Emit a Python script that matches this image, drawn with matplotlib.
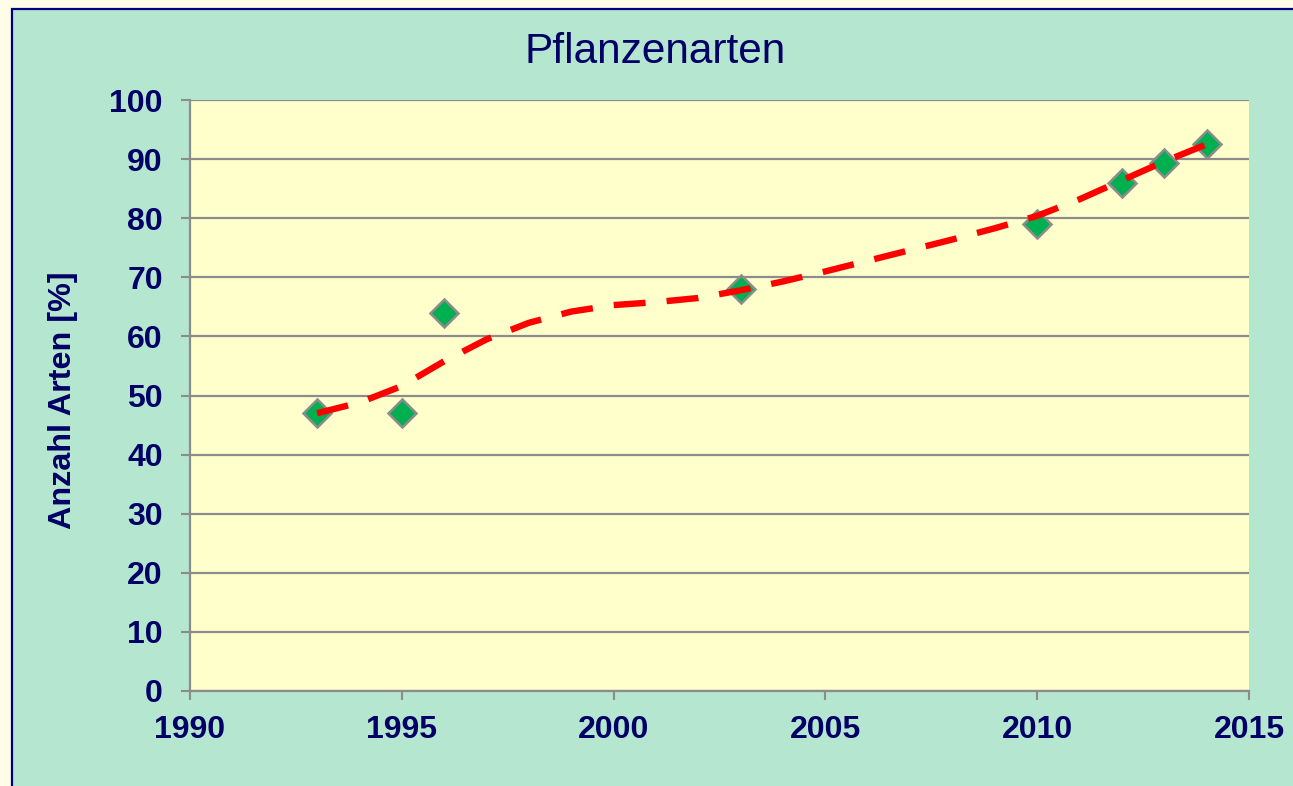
import matplotlib
matplotlib.use("Agg")
import matplotlib.pyplot as plt
from matplotlib.patches import Rectangle

# Data
years = [1993, 1995, 1996, 2003, 2010, 2012, 2013, 2014]
values = [47, 47, 64, 68, 79, 86, 89.3, 92.5]

trend_years = [1993, 1994, 1995, 1996, 1997, 1998, 1999, 2000, 2001, 2002, 2003,
               2004, 2005, 2006, 2007, 2008, 2009, 2010, 2011, 2012, 2013, 2014]
trend_values = [47.0, 48.8, 51.6, 55.8, 59.5, 62.3, 64.2, 65.3, 65.8, 66.5, 67.8,
                69.3, 71.0, 72.8, 74.6, 76.4, 78.3, 80.4, 83.2, 86.4, 89.6, 92.5]

x_ticks = [1990, 1995, 2000, 2005, 2010, 2015]
y_ticks = [0, 10, 20, 30, 40, 50, 60, 70, 80, 90, 100]

title = "Pflanzenarten"
ylabel = "Anzahl Arten [%]"

navy = "#000066"
grid_gray = "#8C8C8C"

plt.rcParams['font.family'] = ['Liberation Sans', 'DejaVu Sans']

W, H = 1293, 786
fig = plt.figure(figsize=(W / 100, H / 100), dpi=100)
fig.patch.set_facecolor("#FFFDE8")

panel = Rectangle((12 / W, -0.05), 1.1, (H - 9) / H + 0.05,
                  transform=fig.transFigure, facecolor="#B5E6CF",
                  edgecolor="#000080", linewidth=1.6, zorder=-10)
fig.add_artist(panel)

ax = fig.add_axes([190 / W, (H - 691) / H, (1249 - 190) / W, (691 - 100) / H])
ax.set_facecolor("#FFFFCC")

ax.set_xlim(1990, 2015)
ax.set_ylim(0, 100)
ax.set_xticks(x_ticks)
ax.set_yticks(y_ticks)

ax.grid(axis='y', color=grid_gray, linewidth=1.6, zorder=0)
ax.set_axisbelow(True)

for s in ['top', 'right']:
    ax.spines[s].set_visible(False)
for s in ['left', 'bottom']:
    ax.spines[s].set_color(grid_gray)
    ax.spines[s].set_linewidth(1.6)

ax.tick_params(axis='both', direction='out', length=6.5, width=1.5, color=grid_gray,
               labelcolor=navy, labelsize=23)
ax.tick_params(axis='y', pad=13)
ax.tick_params(axis='x', pad=11)
for lab in ax.get_xticklabels() + ax.get_yticklabels():
    lab.set_fontweight('bold')

ax.plot(years, values, linestyle='none', marker='D', markersize=14,
        markerfacecolor="#00B050", markeredgecolor="#8C8C8C", markeredgewidth=1.8,
        zorder=3, clip_on=False)

ax.plot(trend_years, trend_values, color="#FF0000", linewidth=4.6,
        linestyle=(0, (5, 3.3)), dash_capstyle='butt', solid_joinstyle='round',
        zorder=4)

fig.text(655 / W, (H - 63) / H, title, ha='center', va='baseline',
         fontsize=30.5, color=navy)
fig.text(63 / W, (H - 400) / H, ylabel, rotation=90, ha='center', va='center',
         fontsize=23.3, fontweight='bold', color=navy)

fig.savefig("out.png", dpi=100)
